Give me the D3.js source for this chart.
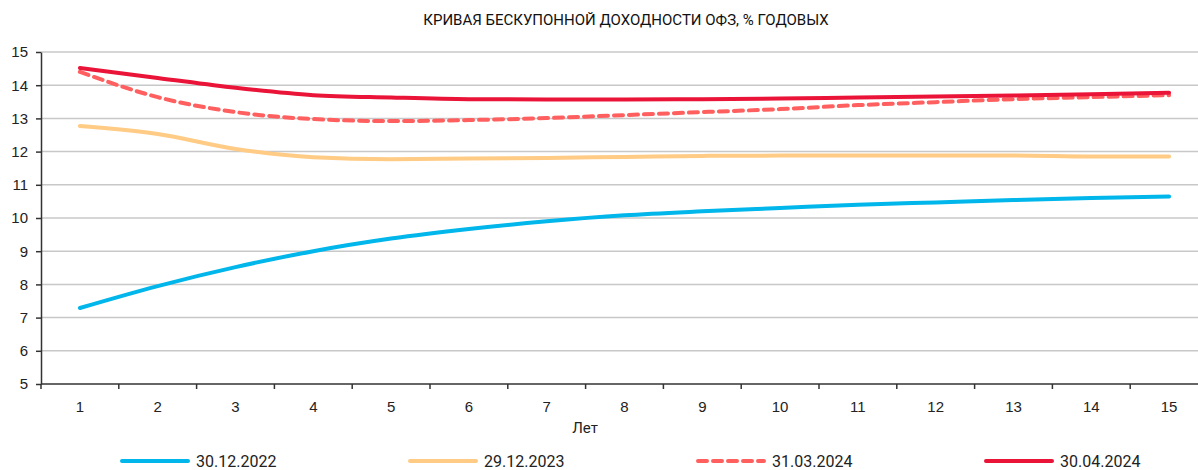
<!DOCTYPE html>
<html>
<head>
<meta charset="utf-8">
<title>Кривая бескупонной доходности ОФЗ</title>
<script src="https://cdn.jsdelivr.net/npm/d3@7"></script>
<style>
  body { margin: 0; background: #fff; }
  svg { display: block; font-family: "Roboto", sans-serif; }
  .title { font-size: 15px; fill: #111; }
  .axis text { font-size: 15px; fill: #222; }
  .axis path, .axis line { stroke: #333; stroke-width: 1.5; }
  .grid line { stroke: #c8c8c8; stroke-width: 1.5; }
  .legend text { font-size: 16px; fill: #222; }
</style>
</head>
<body>
<div id="chart"></div>
<script>
// данные
var years = [1, 2, 3, 4, 5, 6, 7, 8, 9, 10, 11, 12, 13, 14, 15];
var yTicks = [5, 6, 7, 8, 9, 10, 11, 12, 13, 14, 15];

var s2022 = [7.29, 7.95, 8.52, 9.0, 9.38, 9.67, 9.9, 10.08, 10.2, 10.3, 10.4, 10.47, 10.54, 10.6, 10.65];
var s2023 = [12.77, 12.53, 12.08, 11.83, 11.77, 11.79, 11.81, 11.84, 11.87, 11.88, 11.88, 11.88, 11.88, 11.85, 11.85];
var s0324 = [14.4, 13.64, 13.19, 12.98, 12.92, 12.95, 13.01, 13.1, 13.19, 13.28, 13.4, 13.49, 13.58, 13.64, 13.7];
var s0424 = [14.52, 14.22, 13.92, 13.7, 13.63, 13.58, 13.57, 13.57, 13.58, 13.6, 13.63, 13.66, 13.69, 13.73, 13.77];

var series = [
  { name: "30.12.2022", values: s2022, color: "#00b6ea", dash: null },
  { name: "29.12.2023", values: s2023, color: "#ffcb85", dash: null },
  { name: "31.03.2024", values: s0324, color: "#ff5f5f", dash: "9,6" },
  { name: "30.04.2024", values: s0424, color: "#ea1438", dash: null }
];

var width = 1198, height = 470;
var margin = { left: 41, top: 52, bottom: 86 };
var bandW = 77.8;

var svg = d3.select("#chart").append("svg")
    .attr("width", width)
    .attr("height", height);

var x = d3.scaleBand()
    .domain(years)
    .range([margin.left, margin.left + bandW * years.length]);

var y = d3.scaleLinear()
    .domain([5, 15])
    .range([height - margin.bottom, margin.top]);

/* заголовок */
svg.append("text")
    .attr("class", "title")
    .attr("x", 626)
    .attr("y", 25)
    .attr("text-anchor", "middle")
    .text("КРИВАЯ БЕСКУПОННОЙ ДОХОДНОСТИ ОФЗ, % ГОДОВЫХ");

/* сетка */
svg.append("g")
    .attr("class", "grid")
    .selectAll("line")
    .data(yTicks.filter(function(d){ return d > 5; }))
    .enter().append("line")
    .attr("x1", margin.left)
    .attr("x2", width)
    .attr("y1", function(d){ return y(d); })
    .attr("y2", function(d){ return y(d); });

/* оси */
var yAxis = svg.append("g")
    .attr("class", "axis")
    .attr("transform", "translate(" + margin.left + ",0)")
    .call(d3.axisLeft(y).tickValues(yTicks).tickSize(5).tickPadding(8).tickSizeOuter(0));

var xAxis = svg.append("g")
    .attr("class", "axis")
    .attr("transform", "translate(0," + y(5) + ")")
    .call(d3.axisBottom(x).tickSize(0).tickPadding(17));
xAxis.select(".domain").attr("d", "M" + margin.left + ",0H" + width);

// риски между категориями
svg.append("g")
    .attr("class", "axis")
    .selectAll("line")
    .data(years)
    .enter().append("line")
    .attr("x1", function(d){ return x(d); })
    .attr("x2", function(d){ return x(d); })
    .attr("y1", y(5))
    .attr("y2", y(5) + 5);

svg.append("text")
    .attr("class", "axis")
    .attr("x", 585)
    .attr("y", 433)
    .attr("text-anchor", "middle")
    .style("font-size", "15px")
    .style("fill", "#222")
    .text("Лет");

/* линии */
var line = d3.line()
    .x(function(d, i){ return x(years[i]) + x.bandwidth() / 2; })
    .y(function(d){ return y(d); })
    .curve(d3.curveMonotoneX);

svg.append("g").selectAll("path")
    .data(series)
    .enter().append("path")
    .attr("d", function(d){ return line(d.values); })
    .attr("fill", "none")
    .attr("stroke", function(d){ return d.color; })
    .attr("stroke-width", 4)
    .attr("stroke-linecap", "round")
    .attr("stroke-dasharray", function(d){ return d.dash; });

/* легенда */
var leg = svg.append("g")
    .attr("class", "legend")
    .selectAll("g")
    .data(series)
    .enter().append("g")
    .attr("transform", function(d, i){ return "translate(" + (122 + i * 288) + ",461)"; });

leg.append("line")
    .attr("x1", 0).attr("x2", 66)
    .attr("stroke", function(d){ return d.color; })
    .attr("stroke-width", 4)
    .attr("stroke-linecap", "round")
    .attr("stroke-dasharray", function(d){ return d.dash; });

leg.append("text")
    .attr("x", 74)
    .attr("y", 6)
    .text(function(d){ return d.name; });
</script>
</body>
</html>
